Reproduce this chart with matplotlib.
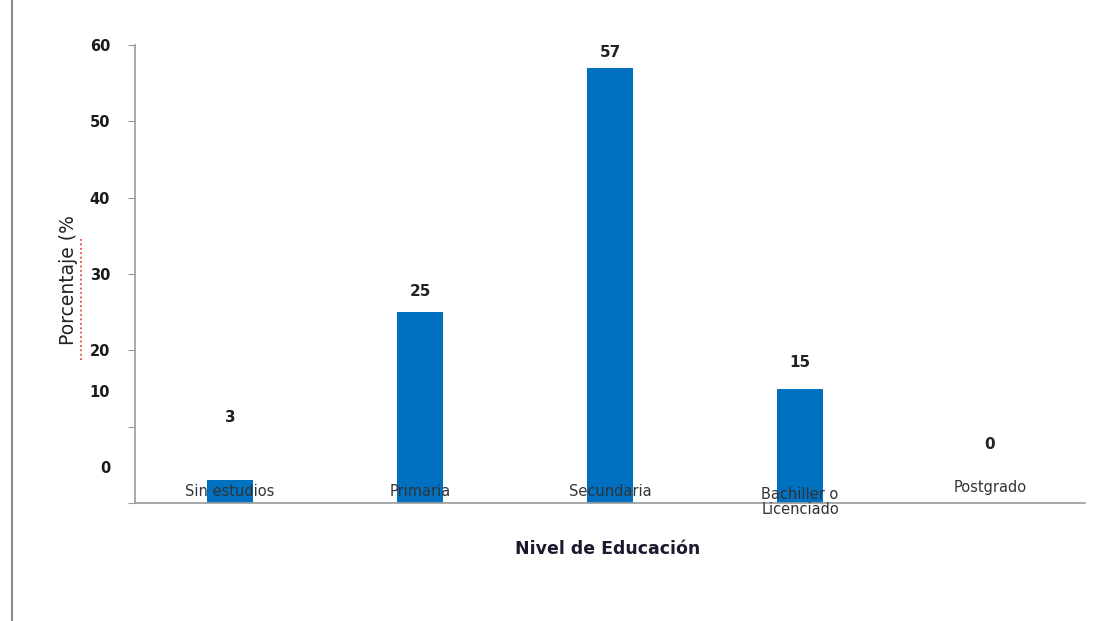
import matplotlib.pyplot as plt
from matplotlib.lines import Line2D
from matplotlib.transforms import ScaledTranslation

# Data
categories = ["Sin estudios", "Primaria", "Secundaria", "Bachiller o\nLicenciado", "Postgrado"]
percent = [3, 25, 57, 15, 0]
y_ticks = [0, 10, 20, 30, 40, 50, 60]

# Label placement (points above bar top / axis)
value_offsets = [45, 15, 11, 19, 42]
cat_offsets = [8, 8, 8, 1, 11]

fig = plt.figure(figsize=(11.03, 6.21), dpi=100)
ax = fig.add_axes([0.1224, 0.19, 0.8613, 0.7375])

x = list(range(len(categories)))
ax.bar(x, percent, width=0.24, color="#0070C0", zorder=1)

ax.set_xlim(-0.5, 4.5)
ax.set_ylim(0, 60)

# Axes styling
for side in ["top", "right"]:
    ax.spines[side].set_visible(False)
ax.spines["left"].set_color("#9a9a9a")
ax.spines["bottom"].set_color("#9a9a9a")
ax.spines["left"].set_linewidth(1.2)
ax.spines["bottom"].set_linewidth(1.2)
ax.set_xticks([])
ax.set_yticks(y_ticks)
ax.set_yticklabels([str(t) for t in y_ticks], fontweight="bold")
ax.tick_params(axis="y", length=5, color="#9a9a9a", labelsize=10.5, pad=13,
               labelcolor="#1a1a1a")

# The low tick labels sit higher than their ticks in the original
for lab in ax.get_yticklabels():
    if lab.get_text() in ("0", "10"):
        lab.set_transform(lab.get_transform() + ScaledTranslation(0, 36 / 100, fig.dpi_scale_trans))

# Value labels
for xi, v, off in zip(x, percent, value_offsets):
    ax.annotate(str(v), xy=(xi, v), xytext=(0, off), textcoords="offset points",
                ha="center", va="center", fontsize=11, fontweight="bold", color="#222222")

# Category labels inside plot area
for xi, c, off in zip(x, categories, cat_offsets):
    ax.annotate(c, xy=(xi, 0), xytext=(0, off), textcoords="offset points",
                ha="center", va="center", fontsize=10.5, color="#333333",
                linespacing=1.0, zorder=3)

# Axis titles
fig.text(0.0617, 0.549, "Porcentaje (%", rotation=90, ha="center", va="center",
         fontsize=13.5, color="#222222")
fig.text(0.551, 0.116, "Nivel de Educación", ha="center", va="center",
         fontsize=12.5, fontweight="bold", color="#1a1a2e")

# spell-check underline and page border line
fig.add_artist(Line2D([0.0735, 0.0735], [0.42, 0.618], color="#e03030",
                      linestyle=":", linewidth=1.2, transform=fig.transFigure))
fig.add_artist(Line2D([0.011, 0.011], [0, 1], color="#8a8a8a", linewidth=1.5,
                      transform=fig.transFigure))

fig.savefig("out.png", dpi=100)
